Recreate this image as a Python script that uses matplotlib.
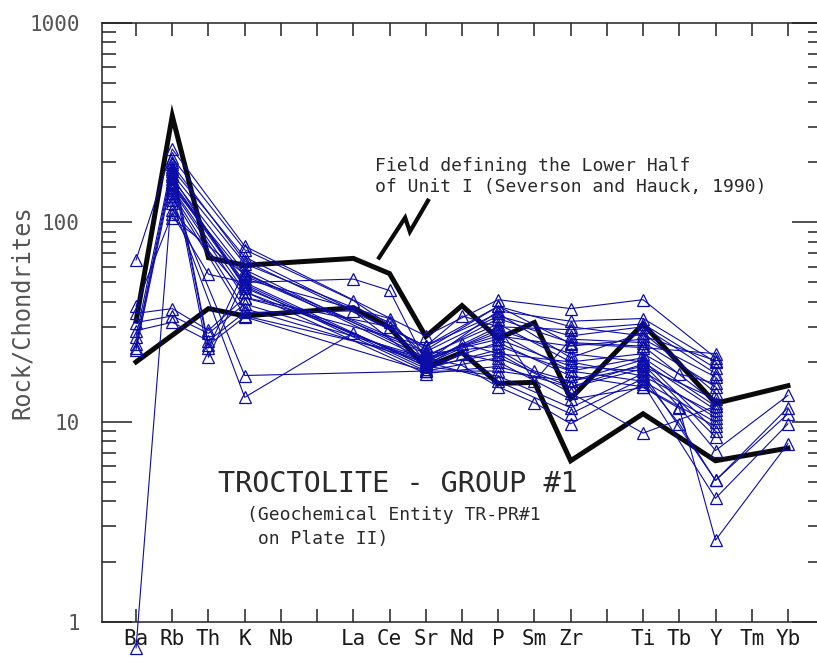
import numpy as np
import matplotlib
matplotlib.use("Agg")
import matplotlib.pyplot as plt
from matplotlib.ticker import FixedLocator, NullFormatter

nan = np.nan

# Spider-diagram element order (blank slots keep the spacing of the template)
elements = ["Ba", "Rb", "Th", "K", "Nb", "", "La", "Ce", "Sr", "Nd", "P",
            "Sm", "Zr", "", "Ti", "Tb", "Y", "Tm", "Yb"]

# Chondrite-normalised values, one entry per sample (26 troctolite samples)
ba = [64.8, 38, 35, 31.5, 28.7, 26.6, 24.5, 23.6, 23, 0.74,
      nan, nan, nan, nan, nan, nan, nan, nan, nan, nan, nan, nan, nan, nan, nan, nan]
rb = [233, 110, 37, 34, 31.6, 200, 190, 180, 170, 150,
      210, 185, 175, 165, 160, 158, 155, 148, 145, 140, 135, 130, 125, 115, 105, 195]
th = [nan, 55, 28.8, 27.8, 25.5, 24.3, 23.5, 21.1, nan, nan,
      nan, nan, nan, nan, nan, nan, nan, nan, nan, nan, nan, nan, nan, nan, nan, nan]
k = [76, 50, 41.9, 39, 35.4, 33.6, 58, 52, 47, 54,
     73, 67, 62, 56, 50, 49, 48, 45, 42, 37, 34, 17.1, 13.3, 45, 55, 64]
la = [nan, 52, nan, nan, 36, nan, nan, nan, nan, nan,
      40.6, nan, nan, nan, nan, nan, nan, nan, nan, nan, nan, nan, 28, nan, nan, nan]
ce = [nan, 45.6, nan, nan, nan, nan, nan, 33, nan, nan,
      nan, nan, 31.6, nan, nan, nan, nan, nan, 30, nan, nan, nan, nan, nan, nan, nan]
sr = [27, 20, 24, 21, 19, 18, 21, 20, 19.5, 22,
      23, 24, 21.5, 20.5, 19, 18.5, 18, 17.5, 19, 20, 21, 18, 19, 20, 22.5, 24]
nd = [nan, nan, 34, nan, 24.7, nan, nan, nan, 23.5, nan,
      nan, nan, nan, nan, nan, nan, nan, nan, nan, nan, 19.2, 22, nan, nan, nan, nan]
p = [41, 36, 30, 27, 22, 18, 33, 29, 26, 24,
     38, 35, 31, 28, 25, 23, 21, 19, 17, 16, 15, 20, 22, 30, 34, 38]
sm = [nan, nan, nan, nan, nan, nan, nan, nan, nan, nan,
      nan, nan, nan, nan, nan, 18, nan, nan, nan, nan, 12.5, nan, nan, 16, nan, nan]
zr = [37, 32, 29, 24, 20, 16, 25, 22, 19, 18,
      24.7, 21, 20, 18, 17, 16, 15, 14.9, 11.8, 11, 9.8, 13, 14, 26, 27, 30]
ti = [41, 33, 31, 26, 22, 19, 24, 20, 18, 21,
      23.6, 28, 17, 16, 15, 20.5, 19.5, 18.5, 17.5, 16.5, 15.5, 14.9, 8.8, 25, 30, 27]
tb = [nan, nan, nan, nan, 17.4, nan, nan, nan, nan, nan,
      nan, nan, nan, nan, nan, nan, nan, 11.9, nan, 9.8, nan, 11.7, nan, nan, nan, nan]
y = [21, 20, 18.6, 16.8, 15.6, 13, 12.5, 11.5, 10.5, 12,
     22, 14, 11, 10, 9.5, 9, 8.4, 7.2, 5.1, 5.1, 4.15, 2.56, 12, 15, 17.5, 20.3]
yb = [nan, nan, nan, nan, nan, nan, nan, nan, nan, nan,
      nan, nan, nan, nan, nan, nan, nan, 13.6, 11.8, 11, 9.8, 7.8, nan, nan, nan, nan]

# Boundaries of the reference field (Lower Half of Unit I)
field_upper = [32, 341, 66.5, 61, nan, nan, 66, 55.4, 26.8, 38.3, 26.2,
               31.5, 13.1, nan, 31, nan, 12.4, nan, 15.2]
field_lower = [20, nan, 37, 34, nan, nan, 37.4, 29.7, 18.8, 22.3, 15.6,
               15.8, 6.4, nan, 11, nan, 6.4, nan, 7.4]

# Leader line from the field label to the field
leader_x = [6.71, 7.43, 7.56, 8.06]
leader_y = [66.6, 105.6, 89.8, 128.4]

empty = [nan] * len(rb)
columns = [ba, rb, th, k, empty, empty, la, ce, sr, nd, p, sm, zr, empty,
           ti, tb, y, empty, yb]
table = np.array(columns, dtype=float)   # shape (n_elements, n_samples)
xpos = np.arange(len(elements))

fig = plt.figure(figsize=(8.17, 6.62), dpi=100)
ax = fig.add_axes([102 / 817, 40.3 / 662, 720 / 817, 599 / 662])

ax.set_yscale("log")
ax.set_ylim(1, 1000)
ax.set_xlim(-0.94, 18.94)

black = "#0a0a0a"
blue = "#0c0ca8"

for bound in (field_upper, field_lower):
    b = np.array(bound, dtype=float)
    m = ~np.isnan(b)
    ax.plot(xpos[m], b[m], color=black, lw=3.6, solid_joinstyle="miter", zorder=2)

ax.plot(leader_x, leader_y, color=black, lw=3.0, solid_joinstyle="miter", zorder=2)

for i in range(table.shape[1]):
    vals = table[:, i]
    m = ~np.isnan(vals)
    ax.plot(xpos[m], vals[m], color=blue, lw=0.8, marker="^", ms=9,
            mfc="none", mec=blue, mew=0.9, clip_on=False, zorder=3)

# Axes cosmetics
for s in ax.spines.values():
    s.set_linewidth(1.1)
    s.set_color("#222222")

ax.xaxis.set_major_locator(FixedLocator(xpos))
ax.set_xticklabels(elements, family="DejaVu Sans Mono", fontsize=15, color="#1a1a1a")
ax.tick_params(axis="x", which="major", direction="in", length=9.5, width=1.1,
               top=True, bottom=True, pad=5, colors="#222222")
ax.tick_params(axis="x", which="minor", length=0)

ax.yaxis.set_major_locator(FixedLocator([1, 10, 100, 1000]))
minors = [m * 10 ** e for e in range(0, 3) for m in range(2, 10)]
ax.yaxis.set_minor_locator(FixedLocator(minors))
ax.yaxis.set_minor_formatter(NullFormatter())
ax.set_yticklabels(["1", "10", "100", "1000"], family="DejaVu Sans Mono",
                   fontsize=15, color="#555555")
ax.tick_params(axis="y", which="major", direction="in", length=21.5, width=1.1,
               left=True, right=True, pad=16, colors="#222222")
ax.tick_params(axis="y", which="minor", direction="in", length=10, width=1.1,
               left=True, right=True, colors="#222222")
for lbl in ax.get_yticklabels():
    lbl.set_color("#555555")
for lbl in ax.get_xticklabels():
    lbl.set_color("#1a1a1a")

fig.text(22 / 817, 1 - 312 / 662, "Rock/Chondrites", rotation=90, ha="center",
         va="center", family="DejaVu Sans Mono", fontsize=17, color="#555555")

mono = dict(family="DejaVu Sans Mono", color="#2a2a2a")
fig.text(375 / 817, 1 - 171 / 662, "Field defining the Lower Half",
         fontsize=13, va="baseline", **mono)
fig.text(375 / 817, 1 - 192 / 662, "of Unit I (Severson and Hauck, 1990)",
         fontsize=13, va="baseline", **mono)
fig.text(218 / 817, 1 - 492 / 662, "TROCTOLITE - GROUP #1",
         fontsize=20.5, va="baseline", **mono)
fig.text(247 / 817, 1 - 520 / 662, "(Geochemical Entity TR-PR#1",
         fontsize=13, va="baseline", **mono)
fig.text(247 / 817, 1 - 544 / 662, " on Plate II)",
         fontsize=13, va="baseline", **mono)

fig.savefig("out.png", dpi=100)
